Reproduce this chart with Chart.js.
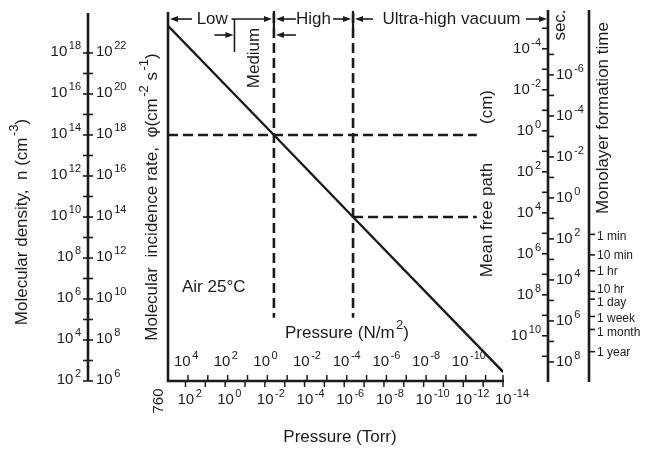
<!DOCTYPE html>
<html>
<head>
<meta charset="utf-8">
<script src="https://cdn.jsdelivr.net/npm/chart.js@4.4.1/dist/chart.umd.min.js"></script>
<style>
  html, body { margin: 0; padding: 0; background: #fff; }
  canvas { display: block; }
</style>
</head>
<body>
<canvas id="chart" width="646" height="452"></canvas>
<script>
// --- values ---
// pressure (Torr) vs molecular density n (cm^-3), air at 25 C
const lineTorr = [760, 3.5e-3, 3.6e-7, 1e-14];
const lineDensity = [2.1e19, 1e14, 1e10, 2.8e2];

// vacuum range edges (Torr): low/medium, medium/high, high/ultra-high
const rangeEdgesTorr = [0.34, 3.5e-3, 3.6e-7];
// dashed guides
const guideDensity = [1e14, 1e10];
const guideEndTorr = 2.1e-13;
const guideTopDensity = 8.9e19;
const guideBottomDensity = 1.2e5;

// tick labels (powers of ten)
const torrExp = [2, 0, -2, -4, -6, -8, -10, -12, -14];
const paExp = [4, 2, 0, -2, -4, -6, -8, -10];
const densityExp = [18, 16, 14, 12, 10, 8, 6, 4, 2];
const fluxExp = [22, 20, 18, 16, 14, 12, 10, 8, 6];
const pathExp = [-4, -2, 0, 2, 4, 6, 8, 10];
const secExp = [-6, -4, -2, 0, 2, 4, 6, 8];
const timeLabels = ["1 min", "10 min", "1 hr", "10 hr", "1 day", "1 week", "1 month", "1 year"];
const timeSeconds = [60, 600, 3600, 36000, 86400, 604800, 2.6e6, 3.15e7];

// conversions between the parallel scales
const PA_PER_TORR = 133.3;
const FLUX_PER_DENSITY = 1e4;        // phi = n * 1e4
const PATH_TIMES_DENSITY = 1.6e14;   // lambda * n
const TIME_TIMES_DENSITY = 8.5e10;   // tau * n

const INK = "#1b1b1b";
const FACE = "'Liberation Sans', Arial, Helvetica, sans-serif";
const LEFT_AXIS_X = 88;
const PATH_AXIS_X = 548;
const TIME_AXIS_X = 589;
const TICK_SIZE = 15;
// small vertical nudges so crowded time labels don't collide
const timeLabelNudge = [2, 1, 1, -2, 4, 2, 3, 1];

function font(size) { return size + "px " + FACE; }

// draw text made of normal and superscript pieces
function drawRich(ctx, parts, x, y, align, size) {
  const supSize = Math.round(size * 0.75);
  let w = 0;
  parts.forEach(p => {
    ctx.font = font(p.sup ? supSize : size);
    p.w = ctx.measureText(p.t).width + (p.sup ? 1.5 : 0);
    w += p.w;
  });
  let cx = align === "right" ? x - w : align === "center" ? x - w / 2 : x;
  ctx.textAlign = "left";
  ctx.textBaseline = "middle";
  parts.forEach(p => {
    ctx.font = font(p.sup ? supSize : size);
    ctx.fillText(p.t, cx + (p.sup ? 1.5 : 0), p.sup ? y - size * 0.42 : y);
    cx += p.w;
  });
  return w;
}
function pow10(exp) { return [{ t: "10" }, { t: String(exp), sup: true }]; }

function rotated(ctx, x, y, fn) {
  ctx.save();
  ctx.translate(x, y);
  ctx.rotate(-Math.PI / 2);
  fn();
  ctx.restore();
}

function arrow(ctx, fromX, toX, y) {
  const dir = Math.sign(toX - fromX);
  ctx.beginPath();
  ctx.moveTo(fromX, y);
  ctx.lineTo(toX - dir * 5, y);
  ctx.stroke();
  ctx.beginPath();
  ctx.moveTo(toX, y);
  ctx.lineTo(toX - dir * 8, y - 3);
  ctx.lineTo(toX - dir * 8, y + 3);
  ctx.closePath();
  ctx.fill();
}

function vline(ctx, x, y1, y2, w) {
  ctx.lineWidth = w;
  ctx.beginPath(); ctx.moveTo(x, y1); ctx.lineTo(x, y2); ctx.stroke();
}
function hline(ctx, x1, x2, y, w) {
  ctx.lineWidth = w;
  ctx.beginPath(); ctx.moveTo(x1, y); ctx.lineTo(x2, y); ctx.stroke();
}

const axesPlugin = {
  id: "vacuumAxes",
  afterDraw(chart) {
    const ctx = chart.ctx;
    const xs = chart.scales.x, ys = chart.scales.y, a = chart.chartArea;
    const yN = n => ys.getPixelForValue(n);
    ctx.save();
    ctx.strokeStyle = INK;
    ctx.fillStyle = INK;
    ctx.lineCap = "butt";

    // frame: left edge and pressure axis
    vline(ctx, a.left, 12, a.bottom + 1, 2.6);
    hline(ctx, a.left - 1, a.right + 1, a.bottom, 2.6);
    vline(ctx, a.right, a.bottom - 6, a.bottom + 6, 1.5);

    // Torr ticks (below) and N/m2 ticks (above)
    for (let k = 2; k >= -13; k--) {
      const x = xs.getPixelForValue(Math.pow(10, k));
      vline(ctx, x, a.bottom, a.bottom + 6, 1.5);
    }
    for (let k = 4; k >= -11; k--) {
      const x = xs.getPixelForValue(Math.pow(10, k) / PA_PER_TORR);
      vline(ctx, x, a.bottom - 6, a.bottom, 1.5);
    }
    torrExp.forEach(k => {
      const x = xs.getPixelForValue(Math.pow(10, k));
      drawRich(ctx, pow10(k), x - 8, a.bottom + 19, "left", TICK_SIZE);
    });
    rotated(ctx, a.left - 9, a.bottom + 20, () => {
      ctx.font = font(TICK_SIZE);
      ctx.textAlign = "center";
      ctx.textBaseline = "middle";
      ctx.fillText("760", 0, 0);
    });
    paExp.forEach(k => {
      const x = xs.getPixelForValue(Math.pow(10, k) / PA_PER_TORR);
      drawRich(ctx, pow10(k), x - 14, a.bottom - 19, "left", TICK_SIZE);
    });
    drawRich(ctx, [{ t: "Pressure (N/m" }, { t: "2", sup: true }, { t: ")" }], 347, 333, "center", 17);
    drawRich(ctx, [{ t: "Pressure (Torr)" }], 340, 437, "center", 17);

    // left double axis: density n and incidence rate phi
    vline(ctx, LEFT_AXIS_X, 13, a.bottom, 2.6);
    for (let k = 2; k <= 18; k++) {
      hline(ctx, LEFT_AXIS_X - 5, LEFT_AXIS_X + 5, yN(Math.pow(10, k)), 1.6);
    }
    densityExp.forEach((k, i) => {
      const y = yN(Math.pow(10, k));
      drawRich(ctx, pow10(k), LEFT_AXIS_X - 7, y - 1, "right", TICK_SIZE);
      drawRich(ctx, pow10(fluxExp[i]), LEFT_AXIS_X + 8, y - 1, "left", TICK_SIZE);
    });
    rotated(ctx, 22, 222, () => {
      drawRich(ctx, [{ t: "Molecular density,  n (cm" }, { t: "-3", sup: true }, { t: ")" }], 0, 0, "center", 17);
    });
    rotated(ctx, 152, 197, () => {
      drawRich(ctx, [{ t: "Molecular  incidence rate,  \u03c6(cm" }, { t: "-2", sup: true }, { t: " s" }, { t: "-1", sup: true }, { t: ")" }], 0, 0, "center", 17);
    });

    // right axis: mean free path (left side) and monolayer time in s (right side)
    vline(ctx, PATH_AXIS_X, 10, a.bottom + 1, 2.6);
    for (let k = -5; k <= 11; k++) {
      hline(ctx, PATH_AXIS_X - 6, PATH_AXIS_X, yN(PATH_TIMES_DENSITY / Math.pow(10, k)), 1.6);
    }
    for (let k = -7; k <= 8; k++) {
      hline(ctx, PATH_AXIS_X, PATH_AXIS_X + 6, yN(TIME_TIMES_DENSITY / Math.pow(10, k)), 1.6);
    }
    pathExp.forEach(k => {
      drawRich(ctx, pow10(k), PATH_AXIS_X - 7, yN(PATH_TIMES_DENSITY / Math.pow(10, k)), "right", TICK_SIZE);
    });
    secExp.forEach(k => {
      drawRich(ctx, pow10(k), PATH_AXIS_X + 8, yN(TIME_TIMES_DENSITY / Math.pow(10, k)), "left", TICK_SIZE);
    });
    rotated(ctx, 487, 220, () => drawRich(ctx, [{ t: "Mean free path" }], 0, 0, "center", 17));
    rotated(ctx, 487, 107, () => drawRich(ctx, [{ t: "(cm)" }], 0, 0, "center", 17));
    rotated(ctx, 560, 25, () => drawRich(ctx, [{ t: "sec." }], 0, 0, "center", 17));

    // monolayer formation time in everyday units
    vline(ctx, TIME_AXIS_X, 10, a.bottom + 1, 2.6);
    timeSeconds.forEach((s, i) => {
      const y = yN(TIME_TIMES_DENSITY / s);
      hline(ctx, TIME_AXIS_X, TIME_AXIS_X + 6, y, 1.6);
      ctx.font = font(12);
      ctx.textAlign = "left";
      ctx.textBaseline = "middle";
      ctx.fillText(timeLabels[i], TIME_AXIS_X + 8, y + timeLabelNudge[i]);
    });
    rotated(ctx, 603, 118, () => drawRich(ctx, [{ t: "Monolayer formation time" }], 0, 0, "center", 17));

    // vacuum ranges across the top
    const yb = 19;
    const xMed = xs.getPixelForValue(rangeEdgesTorr[0]);
    const xHigh = xs.getPixelForValue(rangeEdgesTorr[1]);
    const xUhv = xs.getPixelForValue(rangeEdgesTorr[2]);
    [xHigh, xUhv].forEach(x => vline(ctx, x, 11, 28, 2.2));
    ctx.lineWidth = 1.6;
    arrow(ctx, a.left + 24, a.left + 2, yb);
    drawRich(ctx, [{ t: "Low" }], (a.left + 24 + xMed - 2) / 2, yb, "center", 17);
    hline(ctx, xMed - 3, xMed, yb, 1.6);
    arrow(ctx, xMed, xHigh - 2, yb);
    vline(ctx, xMed, yb, 52, 1.6);
    arrow(ctx, xMed - 20, xMed - 1, 35);
    arrow(ctx, xHigh + 22, xHigh + 2, 35);
    arrow(ctx, xHigh + 22, xHigh + 2, yb);
    drawRich(ctx, [{ t: "High" }], (xHigh + xUhv) / 2, yb, "center", 17);
    arrow(ctx, xUhv - 20, xUhv - 2, yb);
    arrow(ctx, xUhv + 20, xUhv + 2, yb);
    drawRich(ctx, [{ t: "Ultra-high vacuum" }], (xUhv + PATH_AXIS_X) / 2 + 1, yb, "center", 17);
    arrow(ctx, PATH_AXIS_X - 22, PATH_AXIS_X - 1, yb);
    rotated(ctx, (xMed + xHigh) / 2, 58, () => drawRich(ctx, [{ t: "Medium" }], 0, 0, "center", 17));

    drawRich(ctx, [{ t: "Air 25\u00b0C" }], 182, 287, "left", 17);
    ctx.restore();
  }
};

const dashed = { borderColor: INK, borderWidth: 2.6, borderDash: [10, 5], pointRadius: 0, fill: false, tension: 0 };

new Chart(document.getElementById("chart"), {
  type: "line",
  data: {
    datasets: [
      {
        data: lineTorr.map((p, i) => ({ x: p, y: lineDensity[i] })),
        borderColor: INK, borderWidth: 2.4, pointRadius: 0, fill: false, tension: 0
      },
      Object.assign({ data: [{ x: rangeEdgesTorr[1], y: guideTopDensity }, { x: rangeEdgesTorr[1], y: guideBottomDensity }] }, dashed),
      Object.assign({ data: [{ x: rangeEdgesTorr[2], y: guideTopDensity }, { x: rangeEdgesTorr[2], y: guideBottomDensity }] }, dashed),
      Object.assign({ data: [{ x: lineTorr[0], y: guideDensity[0] }, { x: guideEndTorr, y: guideDensity[0] }] }, dashed),
      Object.assign({ data: [{ x: rangeEdgesTorr[2], y: guideDensity[1] }, { x: guideEndTorr, y: guideDensity[1] }] }, dashed)
    ]
  },
  options: {
    responsive: false,
    animation: false,
    devicePixelRatio: 1,
    layout: { padding: { left: 168, right: 143, top: 13, bottom: 71 } },
    plugins: { legend: { display: false }, tooltip: { enabled: false } },
    scales: {
      x: { type: "logarithmic", display: false, reverse: true, bounds: "data", min: 1e-14, max: 760 },
      y: { type: "logarithmic", display: false, bounds: "data", min: 1e2, max: guideTopDensity }
    }
  },
  plugins: [axesPlugin]
});
</script>
</body>
</html>
